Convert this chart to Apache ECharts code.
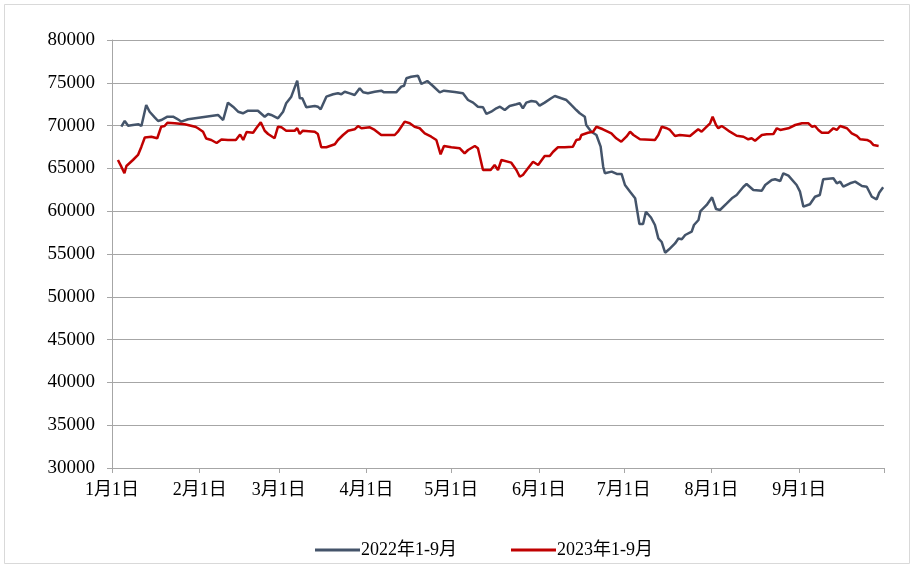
<!DOCTYPE html>
<html>
<head>
<meta charset="utf-8">
<script src="https://cdn.jsdelivr.net/npm/echarts@6/dist/echarts.min.js"></script>
<style>
html,body{margin:0;padding:0;background:#fff;}
#c{width:910px;height:564px;}
</style>
</head>
<body>
<div id="c"></div>
<script>
// x = days since Jan 1
var monthStarts = [0, 31, 59, 90, 120, 151, 181, 212, 243, 273];
var monthLabels = ['1月1日','2月1日','3月1日','4月1日','5月1日','6月1日','7月1日','8月1日','9月1日',''];
var seriesNames = ['2022年1-9月', '2023年1-9月'];

var days2022 = [3.3,4.5,5.7,7.4,9.4,10.4,12.1,13.3,15.1,16.3,17.4,18,19.6,21.6,22.7,23.7,24.5,26.9,37.5,39.3,41,42.8,44.6,46.3,48.1,51.6,54,55.2,56.3,58.7,60.5,61.6,63.4,65.5,66.4,67.3,68.7,71.7,72.8,73.8,75.8,78.2,79.9,81.1,82.3,84.1,85.8,87.6,88.8,90.5,92.9,95.2,96.2,98.8,100.5,102.3,103.3,104.1,105.8,108.2,109.4,111.5,113.5,115.9,117.4,121.2,124.1,125.9,127.7,129.4,131.2,132.4,134.1,135.9,137.2,138.9,140.6,143,144.2,145.3,146.5,148.3,150,151.2,153,155.3,156.6,158.9,160.7,162.4,164.2,165.4,167.2,167.7,169.5,171.3,172.8,173.7,174.3,176.7,178.5,180.2,181.4,183.2,185,186.5,187.8,188.8,190.6,192,193.2,194.4,195.6,197,199.1,200.3,201.5,202.7,205,205.8,207.4,208.1,210.3,212.2,213.6,215,217.4,219.2,220.9,223.3,224.4,226.8,229.8,231,233.3,234.5,236.3,237.4,239.2,242.1,243.3,244.5,246.8,248.6,250.3,251.5,255.1,256.3,257.5,258.6,261,262.8,265.2,266.9,268.7,270.4,271.3,272.7];
var values2022 = [69870,70540,69990,70070,70150,69950,72410,71620,70970,70540,70650,70460,71040,71040,70850,70650,70460,70740,71240,70650,72680,72210,71620,71440,71740,71740,71040,71360,71240,70850,71620,72610,73380,75250,73190,73190,72140,72290,72210,71900,73380,73660,73770,73660,73960,73770,73580,74360,73890,73770,73960,74080,73890,73890,73890,74550,74660,75530,75710,75830,74860,75210,74630,73890,74080,73930,73770,72990,72680,72210,72140,71360,71620,72020,72210,71820,72290,72490,72610,72020,72680,72870,72790,72330,72680,73190,73460,73190,72990,72410,71820,71440,71040,70070,69290,68900,67540,65200,64430,64620,64350,64350,63060,62280,61510,58510,58510,59940,59260,58390,56830,56400,55150,55550,56230,56810,56720,57220,57610,58390,58970,60020,60730,61620,60260,60140,60920,61510,61890,62860,63180,62480,62400,63060,63650,63730,63530,64430,64150,63060,62280,60530,60810,61690,61890,63730,63840,63260,63450,62860,63260,63450,62940,62860,61690,61390,62160,62790];

var days2023 = [2.1,3.3,4.4,5.1,7.4,9.2,10.4,11.6,13.9,16,17.4,18.6,19.6,22.2,25.7,29.4,30.4,32.2,33.3,35.1,37,38.7,41,43.8,45.3,46.4,47.6,49.9,51,52.6,54,55.2,57.5,58.7,59.9,61.6,64.6,65.5,66.4,67.5,71.7,72.8,74,75.8,78.8,79.9,81.7,83.5,85.8,87,88.2,91.2,92.9,95.2,100,101.1,102.3,103.5,105.3,107,108.8,110.6,112.9,114.7,116.2,117.4,120,123,124.7,125.9,128.3,129.4,131.2,133.9,135.3,136.5,137.7,138.3,141.2,143,144.2,145.3,147.1,148.9,150.7,153,154.8,156,157.7,160.1,163,164.2,165.4,166,168.3,170.1,171.3,173.6,176.6,178.3,180.1,181.9,183.2,184.4,186.7,192,193.2,194.4,196.2,197.3,199.1,200.8,204.4,206.2,207.3,208.5,210.3,211.5,212.4,213.6,214.4,215.6,216.8,218.5,220.9,223.3,225,226.2,227.4,229.8,231.5,233.9,235.1,236.3,239.2,241.6,244,246.3,247.5,248.6,249.8,251,253.4,255.1,256.3,257.5,259.9,261.6,263.4,264.6,267,268.2,269.3,271.1];
var values2023 = [65980,65200,64430,65280,65980,66570,67540,68610,68700,68520,69870,69950,70340,70270,70150,69870,69690,69290,68490,68320,67970,68380,68320,68320,68960,68320,69250,69170,69690,70390,69400,69020,68520,69870,69800,69400,69400,69690,69020,69400,69290,69020,67470,67470,67820,68320,68900,69400,69570,69950,69690,69800,69490,68900,68900,69290,69870,70460,70270,69870,69690,69100,68700,68320,66650,67620,67470,67350,66760,67150,67620,67350,64810,64810,65400,64810,65980,65780,65670,64810,64030,64230,65010,65780,65400,66450,66450,66950,67470,67470,67540,68320,68400,68900,69170,69290,69870,69570,69100,68520,68120,68700,69290,68900,68400,68320,68900,69870,69690,69490,68790,68900,68790,69290,69570,69290,69870,70270,71040,70070,69690,69950,69690,69290,68820,68700,68400,68520,68240,68900,68980,69020,69690,69490,69690,70070,70270,70270,69870,69950,69490,69170,69170,69690,69490,69950,69690,69100,68790,68400,68320,68120,67730,67620];

function pairs(xs, ys){ return xs.map(function(x,i){ return [x, ys[i]]; }); }

var chart = echarts.init(document.getElementById('c'), null, {renderer:'canvas'});
var serif = '"Liberation Serif", "Times New Roman", "Noto Sans CJK SC", serif';
chart.setOption({
  animation: false,
  backgroundColor: '#ffffff',
  graphic: [{
    type: 'rect', left: 2, top: 2, silent: true,
    shape: {x: 0, y: 0, width: 905, height: 559},
    style: {fill: 'none', stroke: '#d9d9d9', lineWidth: 1}
  }],
  grid: {left: 112, right: 26, top: 40, bottom: 96},
  legend: {
    left: 310, top: 536,
    itemWidth: 45, itemHeight: 3, itemGap: 54,
    icon: 'rect',
    textStyle: {fontFamily: serif, fontSize: 18, color: '#000', padding: [0,0,0,-4]},
    data: seriesNames
  },
  xAxis: {
    type: 'value', min: 0, max: 273,
    axisLine: {show: true, lineStyle: {color: '#a6a6a6', width: 1}},
    axisTick: {show: true, length: 5, lineStyle: {color: '#a6a6a6'}, customValues: monthStarts},
    axisLabel: {
      show: true, margin: 13, customValues: monthStarts.slice(0, 9),
      fontFamily: serif, fontSize: 18, color: '#000',
      formatter: function(v){ var i = monthStarts.indexOf(Math.round(v)); return i >= 0 ? monthLabels[i] : ''; }
    },
    splitLine: {show: false}
  },
  yAxis: {
    type: 'value', min: 30000, max: 80000, interval: 5000,
    axisLine: {show: true, lineStyle: {color: '#a6a6a6', width: 1}},
    axisTick: {show: true, length: 5, lineStyle: {color: '#a6a6a6'}},
    axisLabel: {margin: 17, fontFamily: serif, fontSize: 19, color: '#000',
      formatter: function(v){ return String(v); }},
    splitLine: {show: true, lineStyle: {color: '#a6a6a6', width: 1}}
  },
  series: [
    {name: seriesNames[0], type: 'line', data: pairs(days2022, values2022), showSymbol: false, symbol: 'none',
     lineStyle: {color: '#44546A', width: 2.5}, itemStyle: {color: '#44546A'}},
    {name: seriesNames[1], type: 'line', data: pairs(days2023, values2023), showSymbol: false, symbol: 'none',
     lineStyle: {color: '#C00000', width: 2.5}, itemStyle: {color: '#C00000'}}
  ]
});
</script>
</body>
</html>
